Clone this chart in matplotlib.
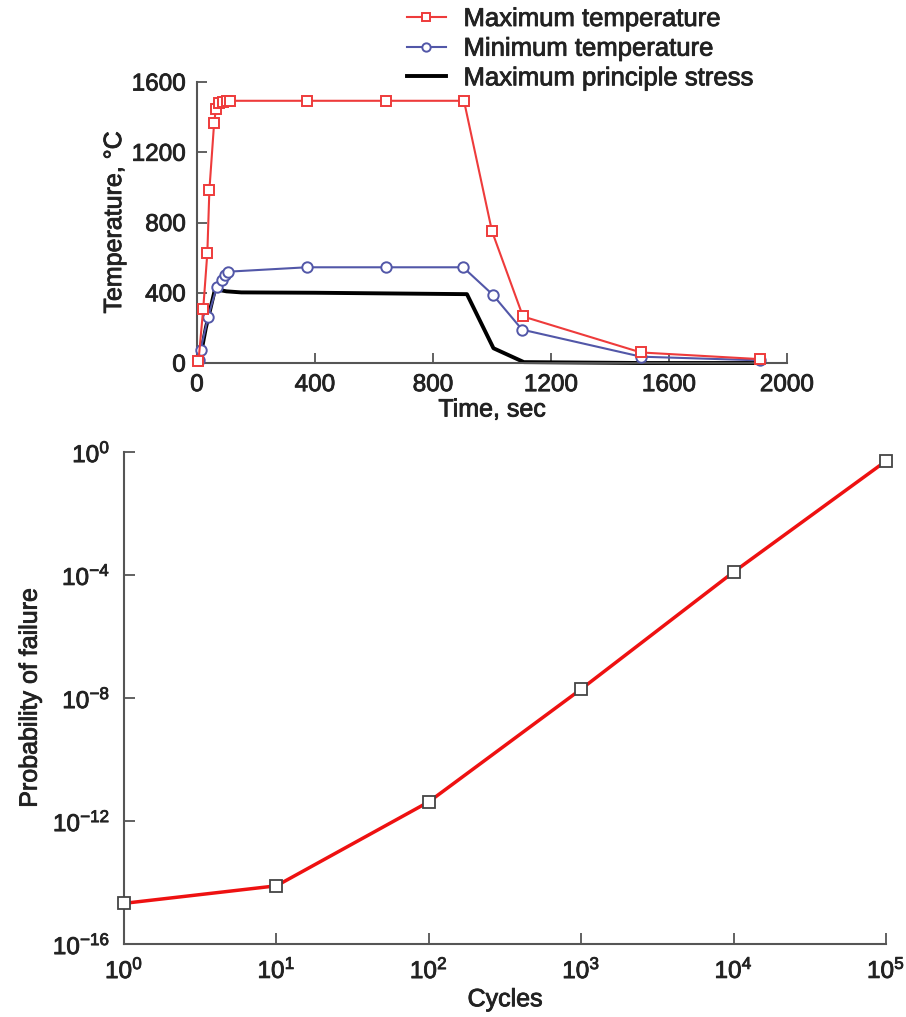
import math
import matplotlib
matplotlib.use("Agg")
import matplotlib.pyplot as plt
import matplotlib.patheffects as pe
from matplotlib.ticker import FixedLocator, FuncFormatter

plt.rcParams['font.family'] = ['Liberation Sans', 'DejaVu Sans']
plt.rcParams['mathtext.fontset'] = 'custom'
plt.rcParams['mathtext.rm'] = 'Liberation Sans'
plt.rcParams['mathtext.it'] = 'Liberation Sans'
plt.rcParams['mathtext.bf'] = 'Liberation Sans:bold'

# ---- Top chart data ----
t_max = [5, 21, 35, 42, 58, 64, 76, 87, 101, 112, 372, 640, 905, 1000, 1105, 1505, 1908]
T_max = [10, 307, 626, 985, 1366, 1446, 1480, 1486, 1490, 1493, 1493, 1493, 1493, 750, 265, 60, 22]
t_min = [8, 12, 38, 67, 84, 95, 106, 372, 640, 902, 1002, 1102, 1505, 1908]
T_min = [17, 74, 264, 434, 472, 500, 520, 545, 545, 545, 390, 190, 36, 15]
t_stress = [3, 12, 30, 61, 100, 150, 400, 915, 1005, 1108, 1500, 1910]
S_stress = [0, 40, 200, 420, 408, 402, 400, 392, 84, 5, 0, 0]
temp_ticks = [0, 400, 800, 1200, 1600]
time_ticks = [0, 400, 800, 1200, 1600, 2000]

# ---- Bottom chart data ----
cycles = [1, 10, 100, 1000, 10000, 100000]
prob_failure = [2.1e-15, 7.8e-15, 4.2e-12, 1.95e-8, 1.25e-4, 0.51]
prob_ticks = [1e-16, 1e-12, 1e-8, 1e-4, 1e0]
cycle_ticks = [1e0, 1e1, 1e2, 1e3, 1e4, 1e5]

RED_T = '#ee3b3b'
BLUE_T = '#5257a8'
RED_B = '#ee1111'
SPINE = '#555555'
TICK_FS = 17.5
LAB_FS = 18
LEG_FS = 18.5
TEXT_FX = [pe.withStroke(linewidth=0.6, foreground='#222222')]

fig = plt.figure(figsize=(9.06, 10.17), dpi=100)

def style_text(ax):
    for lab in ax.get_xticklabels() + ax.get_yticklabels():
        lab.set_path_effects(TEXT_FX)
        lab.set_color('#222222')
    ax.xaxis.label.set_path_effects(TEXT_FX)
    ax.yaxis.label.set_path_effects(TEXT_FX)
    ax.xaxis.label.set_color('#222222')
    ax.yaxis.label.set_color('#222222')

# ---------- top axes ----------
ax1 = fig.add_axes([197/906, 1-363/1017, (787-197)/906, (363-82)/1017])
l1, = ax1.plot(t_max, T_max, color=RED_T, lw=1.5, marker='s', ms=7.5,
               mfc='white', mec=RED_T, mew=1.4, clip_on=False, zorder=4,
               label='Maximum temperature')
l2, = ax1.plot(t_min, T_min, color=BLUE_T, lw=1.5, marker='o', ms=7.5,
               mfc='white', mec=BLUE_T, mew=1.4, clip_on=False, zorder=3,
               label='Minimum temperature')
l3, = ax1.plot(t_stress, S_stress, color='black', lw=2.8, clip_on=False,
               zorder=2, label='Maximum principle stress')
ax1.set_xlim(0, 2000)
ax1.set_ylim(0, 1600)
ax1.set_xticks(time_ticks)
ax1.set_yticks(temp_ticks)
for s in ['top', 'right']:
    ax1.spines[s].set_visible(False)
for s in ['left', 'bottom']:
    ax1.spines[s].set_color(SPINE)
    ax1.spines[s].set_linewidth(1.5)
ax1.tick_params(direction='in', length=7, width=1.3, color=SPINE,
                labelsize=TICK_FS, pad=8)
ax1.set_xlabel('Time, sec', fontsize=LAB_FS, labelpad=1)
ax1.set_ylabel('Temperature, °C', fontsize=LAB_FS, labelpad=4)
style_text(ax1)

leg = fig.legend(handles=[l1, l2, l3], loc='upper left',
                 bbox_to_anchor=(407/906, 1-7/1017), frameon=False,
                 fontsize=LEG_FS, handlelength=1.5, handletextpad=0.7,
                 labelspacing=0.22, borderaxespad=0, borderpad=0)
for h in leg.legend_handles[:2]:
    h.set_markersize(6)
for txt in leg.get_texts():
    txt.set_path_effects(TEXT_FX)
    txt.set_color('#222222')

# ---------- bottom axes ----------
ax2 = fig.add_axes([124/906, 1-944/1017, (886-124)/906, (944-452)/1017])
ax2.plot(cycles, prob_failure, color=RED_B, lw=2.5, marker='s', ms=8,
         mfc='white', mec='#444444', mew=1.3, clip_on=False, zorder=3)
ax2.set_xscale('log')
ax2.set_yscale('log')
ax2.set_xlim(1, 1e5)
ax2.set_ylim(1e-16, 1)
ax2.xaxis.set_major_locator(FixedLocator(cycle_ticks))
ax2.yaxis.set_major_locator(FixedLocator(prob_ticks))
ax2.xaxis.set_minor_locator(FixedLocator([]))
ax2.yaxis.set_minor_locator(FixedLocator([]))

def logfmt(v, pos):
    e = int(round(math.log10(v)))
    return r'$\mathregular{10^{%d}}$' % e

ax2.xaxis.set_major_formatter(FuncFormatter(logfmt))
ax2.yaxis.set_major_formatter(FuncFormatter(logfmt))
for s in ['top', 'right']:
    ax2.spines[s].set_visible(False)
for s in ['left', 'bottom']:
    ax2.spines[s].set_color(SPINE)
    ax2.spines[s].set_linewidth(1.5)
ax2.tick_params(direction='in', length=8, width=1.3, color=SPINE,
                labelsize=TICK_FS, pad=10)
ax2.set_xlabel('Cycles', fontsize=LAB_FS, labelpad=3)
ax2.set_ylabel('Probability of failure', fontsize=LAB_FS, labelpad=8)
style_text(ax2)

fig.savefig('out.png', dpi=100)
